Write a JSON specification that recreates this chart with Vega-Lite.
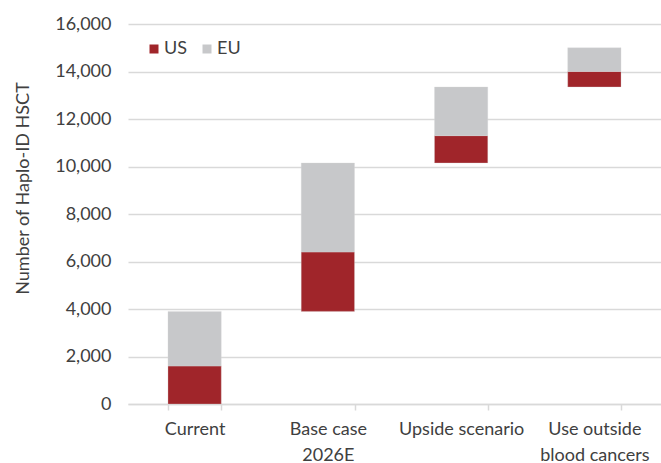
{
  "$schema": "https://vega.github.io/schema/vega-lite/v6.json",
  "width": 533,
  "height": 380,
  "autosize": {"type": "none"},
  "padding": {"left": 128, "top": 24, "right": 0, "bottom": 59},
  "background": "white",
  "config": {
    "view": {"stroke": null},
    "font": "Lato",
    "axis": {"labelFont": "Lato", "titleFont": "Lato", "labelColor": "#404040", "titleColor": "#404040"},
    "legend": {"labelFont": "Lato"}
  },
  "data": {
    "values": [
      {"category": "Current", "series": "US", "start": 0, "end": 1600},
      {"category": "Current", "series": "EU", "start": 1600, "end": 3900},
      {"category": "Base case|2026E", "series": "US", "start": 3900, "end": 6400},
      {"category": "Base case|2026E", "series": "EU", "start": 6400, "end": 10150},
      {"category": "Upside scenario", "series": "US", "start": 10150, "end": 11300},
      {"category": "Upside scenario", "series": "EU", "start": 11300, "end": 13350},
      {"category": "Use outside|blood cancers", "series": "US", "start": 13350, "end": 14000},
      {"category": "Use outside|blood cancers", "series": "EU", "start": 14000, "end": 15000}
    ]
  },
  "mark": {"type": "bar", "stroke": "#d9d9d9", "strokeWidth": 0.5, "strokeOpacity": 0.6},
  "encoding": {
    "x": {
      "field": "category",
      "type": "nominal",
      "sort": null,
      "scale": {"paddingInner": 0.6, "paddingOuter": 0.3},
      "axis": {
        "title": null,
        "labelAngle": 0,
        "labelExpr": "split(datum.label, '|')",
        "labelFontSize": 18,
        "labelLineHeight": 26,
        "labelPadding": 10,
        "labelBaseline": "top",
        "tickBand": "extent",
        "tickColor": "#d9d9d9",
        "tickWidth": 1.5,
        "tickSize": 6,
        "domainColor": "#d9d9d9",
        "domainWidth": 1.5,
        "grid": false
      }
    },
    "y": {
      "field": "start",
      "type": "quantitative",
      "scale": {"domain": [0, 16000], "nice": false},
      "axis": {
        "title": "Number of Haplo-ID HSCT",
        "titleFontSize": 18,
        "titleFontWeight": "normal",
        "titleAngle": -90,
        "titleX": -100,
        "titleY": 164,
        "titleBaseline": "alphabetic",
        "titleAlign": "center",
        "values": [0, 2000, 4000, 6000, 8000, 10000, 12000, 14000, 16000],
        "format": ",d",
        "labelFontSize": 18,
        "labelPadding": 17,
        "domain": false,
        "ticks": false,
        "gridColor": "#d9d9d9",
        "gridWidth": 1.5
      }
    },
    "y2": {"field": "end"},
    "color": {
      "field": "series",
      "type": "nominal",
      "scale": {"domain": ["US", "EU"], "range": ["#a0252a", "#c7c8ca"]},
      "legend": {
        "title": null,
        "orient": "none",
        "legendX": 17,
        "legendY": 16,
        "direction": "horizontal",
        "symbolType": "square",
        "symbolSize": 81,
        "symbolStrokeWidth": 0,
        "labelFontSize": 18,
        "labelColor": "#404040",
        "labelOffset": 1,
        "columnPadding": 10
      }
    }
  }
}
